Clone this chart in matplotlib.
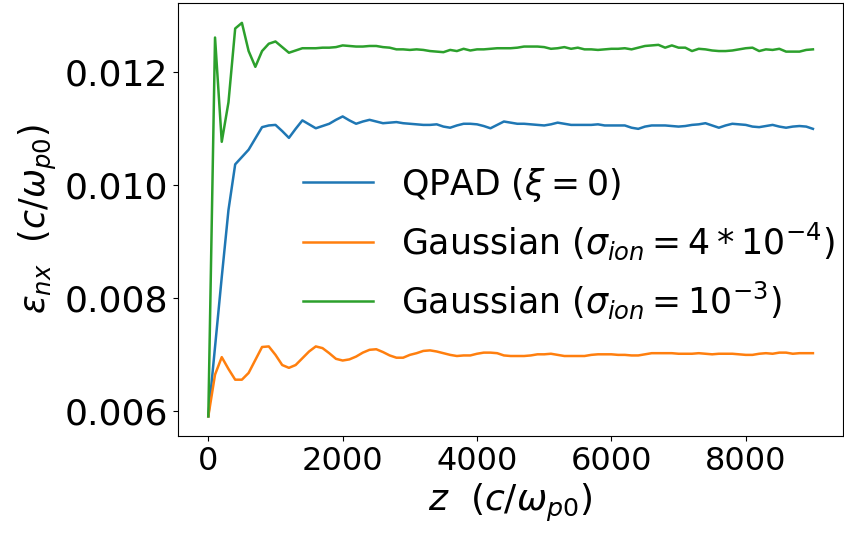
import matplotlib
matplotlib.use("Agg")
import matplotlib.pyplot as plt
import numpy as np

# z sampled every 100 c/w_p0
z = np.arange(0, 9001, 100)

qpad = [0.00590, 0.00713, 0.00837, 0.00956, 0.01037, 0.01050, 0.01063, 0.01083, 0.01103, 0.01106,
        0.01107, 0.01096, 0.01084, 0.01100, 0.01115, 0.01108, 0.01101, 0.01105, 0.01109, 0.01116,
        0.01122, 0.01115, 0.01109, 0.01113, 0.01116, 0.01113, 0.01110, 0.01111, 0.01112, 0.01110,
        0.01109, 0.01108, 0.01107, 0.01107, 0.01108, 0.01104, 0.01102, 0.01106, 0.01109, 0.01109,
        0.01108, 0.01105, 0.01101, 0.01107, 0.01113, 0.01111, 0.01109, 0.01109, 0.01108, 0.01107,
        0.01106, 0.01108, 0.01111, 0.01109, 0.01107, 0.01107, 0.01107, 0.01107, 0.01108, 0.01106,
        0.01106, 0.01106, 0.01106, 0.01102, 0.01100, 0.01104, 0.01106, 0.01106, 0.01106, 0.01105,
        0.01104, 0.01105, 0.01107, 0.01108, 0.01110, 0.01106, 0.01102, 0.01106, 0.01109, 0.01108,
        0.01107, 0.01104, 0.01103, 0.01105, 0.01107, 0.01104, 0.01102, 0.01104, 0.01105, 0.01104,
        0.01100]

gauss_4e4 = [0.00590, 0.00664, 0.00695, 0.00674, 0.00655, 0.00655, 0.00667, 0.00690, 0.00713, 0.00714,
             0.00699, 0.00681, 0.00676, 0.00681, 0.00693, 0.00705, 0.00714, 0.00711, 0.00702, 0.00692,
             0.00689, 0.00691, 0.00696, 0.00703, 0.00708, 0.00709, 0.00704, 0.00698, 0.00694, 0.00694,
             0.00699, 0.00702, 0.00706, 0.00707, 0.00705, 0.00702, 0.00699, 0.00697, 0.00698, 0.00698,
             0.00701, 0.00703, 0.00703, 0.00702, 0.00698, 0.00697, 0.00697, 0.00697, 0.00698, 0.00700,
             0.00700, 0.00701, 0.00699, 0.00697, 0.00697, 0.00697, 0.00697, 0.00699, 0.00700, 0.00700,
             0.00700, 0.00699, 0.00699, 0.00698, 0.00698, 0.00700, 0.00702, 0.00702, 0.00702, 0.00702,
             0.00701, 0.00701, 0.00701, 0.00702, 0.00701, 0.00700, 0.00701, 0.00701, 0.00701, 0.00700,
             0.00699, 0.00699, 0.00701, 0.00702, 0.00701, 0.00703, 0.00703, 0.00701, 0.00702, 0.00702,
             0.00702]

gauss_1e3 = [0.00590, 0.01262, 0.01077, 0.01147, 0.01278, 0.01288, 0.01238, 0.01210, 0.01238, 0.01251,
             0.01255, 0.01245, 0.01235, 0.01239, 0.01243, 0.01243, 0.01243, 0.01244, 0.01244, 0.01245,
             0.01248, 0.01247, 0.01246, 0.01246, 0.01247, 0.01247, 0.01245, 0.01244, 0.01241, 0.01241,
             0.01240, 0.01241, 0.01240, 0.01238, 0.01237, 0.01236, 0.01240, 0.01238, 0.01242, 0.01239,
             0.01241, 0.01241, 0.01242, 0.01243, 0.01243, 0.01243, 0.01244, 0.01246, 0.01246, 0.01246,
             0.01245, 0.01242, 0.01243, 0.01245, 0.01242, 0.01244, 0.01241, 0.01241, 0.01240, 0.01241,
             0.01242, 0.01242, 0.01243, 0.01241, 0.01244, 0.01247, 0.01248, 0.01249, 0.01244, 0.01248,
             0.01244, 0.01244, 0.01238, 0.01242, 0.01241, 0.01239, 0.01238, 0.01238, 0.01239, 0.01241,
             0.01243, 0.01244, 0.01238, 0.01241, 0.01240, 0.01242, 0.01237, 0.01237, 0.01237, 0.01240,
             0.01241]

labels = [r"QPAD ($\xi = 0$)",
          r"Gaussian ($\sigma_{ion} = 4*10^{-4}$)",
          r"Gaussian ($\sigma_{ion} = 10^{-3}$)"]

fig = plt.figure(figsize=(8.44, 5.33), dpi=100)
ax = fig.add_axes([0.211, 0.182, 0.788, 0.812])

ax.plot(z, qpad, color="tab:blue", lw=1.8, label=labels[0])
ax.plot(z, gauss_4e4, color="tab:orange", lw=1.8, label=labels[1])
ax.plot(z, gauss_1e3, color="tab:green", lw=1.8, label=labels[2])

ax.set_yticks([0.006, 0.008, 0.010, 0.012])
ax.set_xticks([0, 2000, 4000, 6000, 8000])
ax.tick_params(axis="x", labelsize=23)
ax.tick_params(axis="y", labelsize=26)
ax.set_xlabel(r"$z$  $(c/\omega_{p0})$", fontsize=26)
ax.set_ylabel(r"$\epsilon_{nx}$  $(c/\omega_{p0})$", fontsize=25)

ax.legend(loc="center right", fontsize=25, frameon=False,
          bbox_to_anchor=(1.013, 0.445), borderaxespad=0.1)

fig.savefig("out.png", dpi=100)
